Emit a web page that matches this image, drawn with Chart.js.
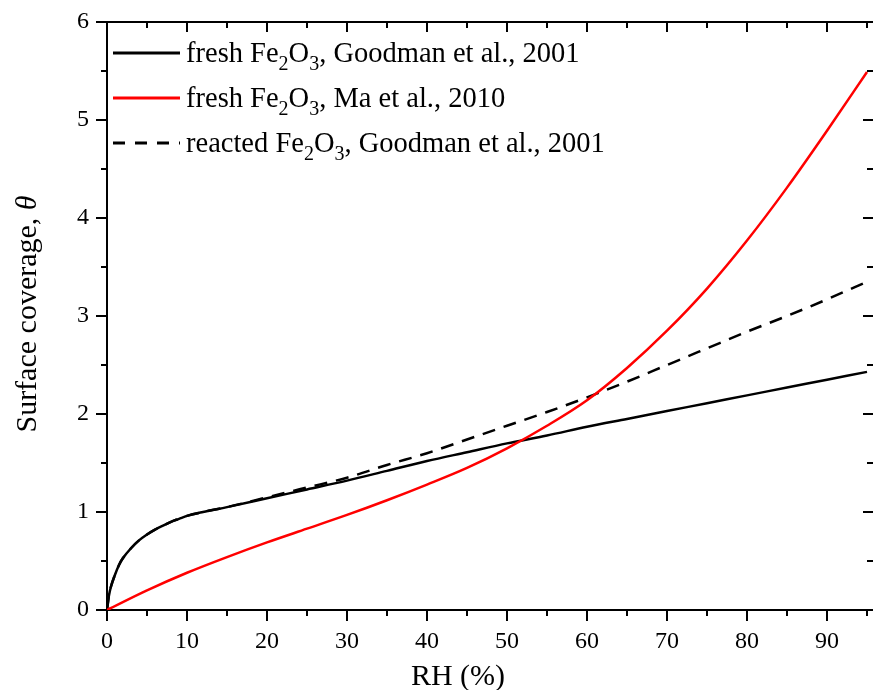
<!DOCTYPE html>
<html>
<head>
<meta charset="utf-8">
<script src="https://cdn.jsdelivr.net/npm/chart.js@4.4.0/dist/chart.umd.min.js"></script>
<style>
  html, body { margin: 0; padding: 0; background: #fff; }
  #wrap { width: 873px; height: 690px; }
</style>
</head>
<body>
<div id="wrap"><canvas id="myChart" width="873" height="690"></canvas></div>
<script>
// relative humidity (%) for the two Goodman curves
var rhGoodman = [0, 0.25, 0.5, 1, 1.5, 2, 3, 4, 5, 6, 7, 8, 9, 10, 12, 15, 20, 25, 30, 35, 40, 45, 50, 55, 60, 65, 70, 75, 80, 85, 90, 95];
var freshGoodman = [0, 0.15, 0.24, 0.36, 0.46, 0.53, 0.63, 0.71, 0.77, 0.82, 0.86, 0.90, 0.93, 0.96, 1.00, 1.05, 1.14, 1.23, 1.32, 1.42, 1.52, 1.61, 1.70, 1.78, 1.87, 1.95, 2.03, 2.11, 2.19, 2.27, 2.35, 2.43];
var reactedGoodman = [0, 0.15, 0.24, 0.36, 0.46, 0.53, 0.63, 0.71, 0.77, 0.82, 0.86, 0.90, 0.93, 0.96, 1.00, 1.05, 1.15, 1.25, 1.35, 1.48, 1.60, 1.74, 1.88, 2.02, 2.17, 2.33, 2.50, 2.67, 2.84, 3.00, 3.17, 3.35];

// Ma et al. curve
var rhMa = [0, 5, 10, 15, 20, 25, 30, 35, 40, 45, 50, 55, 60, 65, 70, 75, 80, 85, 90, 95];
var freshMa = [0, 0.20, 0.38, 0.54, 0.69, 0.83, 0.97, 1.12, 1.28, 1.45, 1.65, 1.88, 2.14, 2.47, 2.85, 3.28, 3.77, 4.31, 4.89, 5.49];

var seriesLabels = ['fresh Fe_2O_3, Goodman et al., 2001', 'fresh Fe_2O_3, Ma et al., 2010', 'reacted Fe_2O_3, Goodman et al., 2001'];
var xMinorTicks = [5, 15, 25, 35, 45, 55, 65, 75, 85, 95];
var yMinorTicks = [0.5, 1.5, 2.5, 3.5, 4.5, 5.5];

var serif = '"Liberation Serif", "Times New Roman", serif';

function pts(xs, ys) {
    return xs.map(function (x, i) { return { x: x, y: ys[i] }; });
}

// frame, minor ticks, inward ticks on top/right, axis titles, legend
var decor = {
    id: 'decor',
    afterDraw: function (chart) {
        var ctx = chart.ctx, a = chart.chartArea;
        var xs = chart.scales.x, ys = chart.scales.y;
        ctx.save();
        ctx.strokeStyle = '#000';
        ctx.lineWidth = 2;
        ctx.beginPath();
        ctx.moveTo(a.left - 1, a.top);
        ctx.lineTo(a.right, a.top);
        ctx.stroke();

        ctx.beginPath();
        xs.ticks.forEach(function (t) {
            var px = Math.round(xs.getPixelForValue(t.value));
            ctx.moveTo(px, a.top); ctx.lineTo(px, a.top + 10);
        });
        xMinorTicks.forEach(function (v) {
            var px = Math.round(xs.getPixelForValue(v));
            ctx.moveTo(px, a.top); ctx.lineTo(px, a.top + 6);
            ctx.moveTo(px, a.bottom); ctx.lineTo(px, a.bottom + 6);
        });
        ys.ticks.forEach(function (t) {
            var py = Math.round(ys.getPixelForValue(t.value));
            ctx.moveTo(a.right, py); ctx.lineTo(a.right - 10, py);
        });
        yMinorTicks.forEach(function (v) {
            var py = Math.round(ys.getPixelForValue(v));
            ctx.moveTo(a.left, py); ctx.lineTo(a.left - 6, py);
            ctx.moveTo(a.right, py); ctx.lineTo(a.right - 6, py);
        });
        ctx.stroke();

        // axis titles
        ctx.fillStyle = '#000';
        ctx.font = '30px ' + serif;
        ctx.textAlign = 'center';
        ctx.textBaseline = 'alphabetic';
        ctx.fillText('RH (%)', 458, 685);

        ctx.save();
        ctx.translate(36, 314);
        ctx.rotate(-Math.PI / 2);
        var t1 = 'Surface coverage, ', t2 = '\u03b8';
        ctx.font = '30px ' + serif;
        var w1 = ctx.measureText(t1).width;
        ctx.font = 'italic 30px ' + serif;
        var w2 = ctx.measureText(t2).width;
        ctx.textAlign = 'left';
        ctx.font = '30px ' + serif;
        ctx.fillText(t1, -(w1 + w2) / 2, 0);
        ctx.font = 'italic 30px ' + serif;
        ctx.fillText(t2, -(w1 + w2) / 2 + w1, 0);
        ctx.restore();

        // legend
        var rowY = [53, 98, 143];
        chart.data.datasets.forEach(function (ds) {
            var y = rowY[ds.legendRow];
            ctx.save();
            ctx.strokeStyle = ds.borderColor;
            ctx.lineWidth = 3;
            ctx.setLineDash(ds.borderDash ? [12, 10] : []);
            ctx.beginPath();
            ctx.moveTo(113, y); ctx.lineTo(180, y);
            ctx.stroke();
            ctx.restore();

            var x = 186;
            var parts = ds.label.split(/_(\d)/);
            ctx.textAlign = 'left';
            ctx.textBaseline = 'alphabetic';
            parts.forEach(function (p, k) {
                if (k % 2 === 1) {
                    ctx.font = '20px ' + serif;
                    ctx.fillText(p, x, y + 17);
                } else {
                    ctx.font = '28.5px ' + serif;
                    ctx.fillText(p, x, y + 9);
                }
                x += ctx.measureText(p).width;
            });
        });
        ctx.restore();
    }
};

var ctx = document.getElementById('myChart').getContext('2d');
var chart = new Chart(ctx, {
    type: 'line',
    data: {
        datasets: [{
            label: seriesLabels[0],
            legendRow: 0,
            data: pts(rhGoodman, freshGoodman),
            borderColor: '#000000',
            borderWidth: 2.5,
            order: 2
        }, {
            label: seriesLabels[1],
            legendRow: 1,
            data: pts(rhMa, freshMa),
            borderColor: '#ff0000',
            borderWidth: 2.5,
            order: 0
        }, {
            label: seriesLabels[2],
            legendRow: 2,
            data: pts(rhGoodman, reactedGoodman),
            borderColor: '#000000',
            borderWidth: 2.5,
            borderDash: [13, 9],
            order: 1
        }]
    },
    options: {
        responsive: false,
        animation: false,
        devicePixelRatio: 1,
        layout: { padding: { top: 22, right: 0, bottom: 0, left: 0 } },
        elements: {
            point: { radius: 0 },
            line: { cubicInterpolationMode: 'monotone', fill: false }
        },
        plugins: {
            legend: { display: false },
            tooltip: { enabled: false },
            title: { display: false }
        },
        scales: {
            x: {
                type: 'linear',
                min: 0,
                max: 95.75,
                afterFit: function (s) { s.height = 80; },
                border: { display: true, color: '#000', width: 2 },
                grid: { drawOnChartArea: false, color: '#000', lineWidth: 2, tickLength: 11 },
                ticks: {
                    stepSize: 10,
                    includeBounds: false,
                    maxRotation: 0,
                    padding: 6,
                    color: '#000',
                    font: { family: serif, size: 24 }
                }
            },
            y: {
                min: 0,
                max: 6,
                afterFit: function (s) { s.width = 107; },
                border: { display: true, color: '#000', width: 2 },
                grid: { drawOnChartArea: false, color: '#000', lineWidth: 2, tickLength: 11 },
                ticks: {
                    stepSize: 1,
                    padding: 7,
                    color: '#000',
                    font: { family: serif, size: 24 }
                }
            }
        }
    },
    plugins: [decor]
});
</script>
</body>
</html>
